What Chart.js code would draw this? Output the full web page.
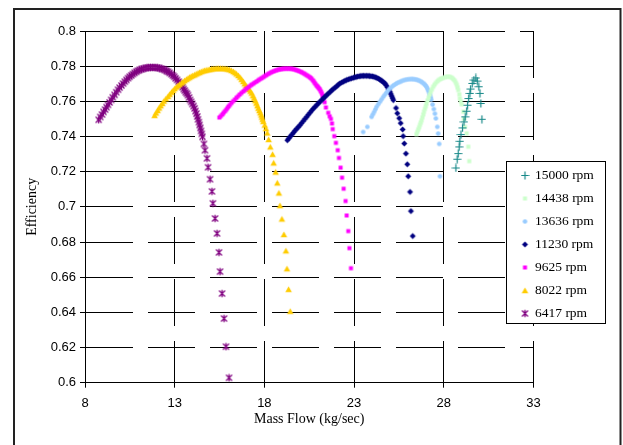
<!DOCTYPE html>
<html>
<head>
<meta charset="utf-8">
<script src="https://cdn.jsdelivr.net/npm/chart.js@4/dist/chart.umd.min.js"></script>
<style>
  html, body { margin: 0; padding: 0; background: #fff; }
  #wrap { width: 623px; height: 445px; }
</style>
</head>
<body>
<div id="wrap"><canvas id="c" width="623" height="445"></canvas></div>
<script>
// ---- data ----
const seriesNames = ['15000 rpm', '14438 rpm', '13636 rpm', '11230 rpm', '9625 rpm', '8022 rpm', '6417 rpm'];
const xTickLabels = ['8', '13', '18', '23', '28', '33'];
const yTickLabels = ['0.6', '0.62', '0.64', '0.66', '0.68', '0.7', '0.72', '0.74', '0.76', '0.78', '0.8'];

const rpm15000 = [[28.68,0.7221],[28.75,0.7271],[28.81,0.7303],[28.86,0.7341],[28.90,0.7373],[28.96,0.7411],[29.05,0.7449],[29.13,0.7483],[29.20,0.7512],[29.28,0.7544],[29.33,0.7578],[29.39,0.7616],[29.46,0.7645],[29.50,0.7670],[29.59,0.7702],[29.68,0.7721],[29.79,0.7733],[29.87,0.7715],[29.96,0.7683],[30.02,0.7645],[30.07,0.7588],[30.13,0.7498]];
const rpm14438 = [[26.48,0.7413],[26.53,0.7427],[26.58,0.7440],[26.63,0.7453],[26.68,0.7467],[26.72,0.7480],[26.77,0.7493],[26.81,0.7509],[26.86,0.7525],[26.90,0.7541],[26.95,0.7557],[27.00,0.7572],[27.04,0.7588],[27.10,0.7605],[27.16,0.7621],[27.22,0.7638],[27.28,0.7654],[27.34,0.7669],[27.41,0.7683],[27.48,0.7694],[27.56,0.7705],[27.64,0.7714],[27.72,0.7721],[27.80,0.7726],[27.88,0.7730],[27.98,0.7734],[28.09,0.7738],[28.20,0.7740],[28.31,0.7740],[28.40,0.7737],[28.48,0.7732],[28.55,0.7725],[28.62,0.7717],[28.68,0.7705],[28.73,0.7693],[28.77,0.7679],[28.81,0.7664],[28.87,0.7640],[28.90,0.7617],[28.95,0.7600],[29.00,0.7583],[29.09,0.7541],[29.13,0.7500],[29.18,0.7455],[29.28,0.7418],[29.37,0.7342],[29.42,0.7260]];
const rpm13636 = [[23.51,0.7426],[23.74,0.7455],[23.98,0.7512],[24.05,0.7526],[24.12,0.7540],[24.19,0.7555],[24.26,0.7569],[24.35,0.7584],[24.45,0.7598],[24.54,0.7612],[24.63,0.7626],[24.72,0.7638],[24.81,0.7650],[24.90,0.7662],[25.00,0.7674],[25.10,0.7682],[25.19,0.7690],[25.28,0.7696],[25.37,0.7702],[25.46,0.7707],[25.56,0.7711],[25.66,0.7716],[25.77,0.7720],[25.88,0.7723],[25.99,0.7725],[26.10,0.7726],[26.21,0.7727],[26.30,0.7726],[26.40,0.7725],[26.49,0.7723],[26.58,0.7720],[26.67,0.7716],[26.76,0.7711],[26.84,0.7705],[26.92,0.7698],[26.98,0.7691],[27.04,0.7683],[27.09,0.7672],[27.14,0.7660],[27.19,0.7648],[27.23,0.7636],[27.27,0.7623],[27.30,0.7610],[27.38,0.7582],[27.45,0.7556],[27.51,0.7530],[27.56,0.7503],[27.64,0.7455],[27.69,0.7417],[27.75,0.7358],[27.79,0.7174]];
const rpm11230 = [[19.28,0.7379],[19.37,0.7390],[19.45,0.7401],[19.54,0.7412],[19.63,0.7423],[19.71,0.7434],[19.80,0.7444],[19.89,0.7454],[19.98,0.7464],[20.07,0.7476],[20.17,0.7488],[20.26,0.7500],[20.36,0.7512],[20.45,0.7524],[20.55,0.7536],[20.64,0.7548],[20.73,0.7559],[20.83,0.7569],[20.92,0.7579],[21.01,0.7589],[21.10,0.7598],[21.20,0.7608],[21.29,0.7617],[21.38,0.7626],[21.47,0.7635],[21.56,0.7644],[21.66,0.7653],[21.75,0.7662],[21.84,0.7670],[21.94,0.7678],[22.03,0.7686],[22.12,0.7694],[22.21,0.7702],[22.31,0.7707],[22.40,0.7712],[22.49,0.7717],[22.58,0.7721],[22.68,0.7725],[22.77,0.7728],[22.86,0.7731],[22.96,0.7734],[23.04,0.7737],[23.12,0.7739],[23.20,0.7741],[23.29,0.7743],[23.37,0.7744],[23.45,0.7745],[23.53,0.7745],[23.61,0.7745],[23.70,0.7745],[23.78,0.7745],[23.86,0.7744],[23.94,0.7743],[24.02,0.7742],[24.10,0.7740],[24.18,0.7737],[24.26,0.7734],[24.34,0.7730],[24.42,0.7725],[24.50,0.7720],[24.57,0.7714],[24.65,0.7708],[24.72,0.7702],[24.79,0.7691],[24.86,0.7680],[24.93,0.7667],[25.00,0.7654],[25.05,0.7642],[25.10,0.7630],[25.15,0.7618],[25.19,0.7607],[25.34,0.7562],[25.41,0.7532],[25.52,0.7504],[25.60,0.7476],[25.71,0.7440],[25.74,0.7402],[25.80,0.7360],[25.89,0.7303],[25.97,0.7242],[26.02,0.7174],[26.12,0.7085],[26.17,0.6976],[26.27,0.6834]];
const rpm9625 = [[15.49,0.7508],[15.57,0.7516],[15.65,0.7525],[15.72,0.7534],[15.80,0.7543],[15.87,0.7552],[15.94,0.7562],[16.01,0.7571],[16.08,0.7580],[16.17,0.7591],[16.26,0.7601],[16.36,0.7611],[16.45,0.7621],[16.54,0.7630],[16.63,0.7639],[16.72,0.7648],[16.82,0.7656],[16.91,0.7664],[17.00,0.7672],[17.10,0.7680],[17.19,0.7687],[17.28,0.7694],[17.38,0.7700],[17.47,0.7707],[17.57,0.7713],[17.66,0.7720],[17.75,0.7726],[17.85,0.7732],[17.94,0.7738],[18.03,0.7744],[18.12,0.7750],[18.22,0.7756],[18.31,0.7761],[18.40,0.7766],[18.50,0.7770],[18.59,0.7774],[18.68,0.7777],[18.78,0.7780],[18.87,0.7782],[18.96,0.7784],[19.05,0.7785],[19.15,0.7786],[19.24,0.7786],[19.34,0.7786],[19.43,0.7786],[19.52,0.7785],[19.61,0.7783],[19.71,0.7780],[19.80,0.7777],[19.89,0.7774],[19.98,0.7770],[20.07,0.7766],[20.16,0.7761],[20.25,0.7756],[20.33,0.7750],[20.42,0.7745],[20.50,0.7739],[20.57,0.7734],[20.64,0.7728],[20.71,0.7719],[20.77,0.7710],[20.83,0.7701],[20.89,0.7692],[20.95,0.7686],[21.00,0.7680],[21.05,0.7673],[21.10,0.7666],[21.15,0.7656],[21.20,0.7646],[21.24,0.7633],[21.28,0.7620],[21.36,0.7595],[21.43,0.7565],[21.56,0.7535],[21.64,0.7515],[21.71,0.7500],[21.77,0.7474],[21.81,0.7442],[21.90,0.7402],[21.99,0.7364],[22.09,0.7322],[22.16,0.7278],[22.25,0.7223],[22.33,0.7166],[22.42,0.7103],[22.53,0.7033],[22.59,0.6951],[22.68,0.6862],[22.74,0.6765],[22.83,0.6651]];
const rpm8022 = [[11.88,0.7520],[11.96,0.7534],[12.05,0.7548],[12.13,0.7562],[12.22,0.7575],[12.31,0.7588],[12.40,0.7601],[12.51,0.7615],[12.63,0.7628],[12.72,0.7640],[12.82,0.7652],[12.91,0.7662],[13.00,0.7672],[13.09,0.7681],[13.18,0.7690],[13.27,0.7697],[13.37,0.7704],[13.46,0.7711],[13.55,0.7718],[13.65,0.7725],[13.74,0.7731],[13.83,0.7737],[13.92,0.7742],[14.01,0.7747],[14.11,0.7751],[14.20,0.7756],[14.30,0.7761],[14.39,0.7765],[14.48,0.7769],[14.58,0.7773],[14.67,0.7776],[14.76,0.7778],[14.86,0.7780],[14.95,0.7782],[15.05,0.7784],[15.15,0.7786],[15.25,0.7787],[15.35,0.7788],[15.45,0.7788],[15.55,0.7788],[15.65,0.7788],[15.75,0.7787],[15.85,0.7786],[15.95,0.7784],[16.05,0.7781],[16.16,0.7776],[16.27,0.7770],[16.36,0.7763],[16.45,0.7756],[16.55,0.7747],[16.64,0.7737],[16.73,0.7725],[16.82,0.7713],[16.90,0.7700],[16.98,0.7688],[17.06,0.7678],[17.14,0.7668],[17.22,0.7658],[17.29,0.7647],[17.36,0.7632],[17.42,0.7618],[17.49,0.7604],[17.55,0.7590],[17.61,0.7575],[17.66,0.7561],[17.72,0.7548],[17.77,0.7535],[17.82,0.7522],[17.86,0.7510],[17.90,0.7498],[17.94,0.7486],[18.02,0.7465],[18.09,0.7445],[18.16,0.7420],[18.24,0.7383],[18.33,0.7341],[18.46,0.7299],[18.52,0.7250],[18.63,0.7198],[18.72,0.7136],[18.81,0.7079],[18.87,0.7007],[18.98,0.6931],[19.09,0.6843],[19.20,0.6750],[19.26,0.6648],[19.35,0.6531],[19.44,0.6406]];
const rpm6417 = [[8.76,0.7495],[8.85,0.7511],[8.95,0.7525],[9.03,0.7540],[9.12,0.7553],[9.20,0.7567],[9.28,0.7580],[9.37,0.7594],[9.46,0.7608],[9.55,0.7623],[9.65,0.7637],[9.74,0.7652],[9.84,0.7666],[9.93,0.7678],[10.03,0.7690],[10.12,0.7701],[10.22,0.7712],[10.31,0.7722],[10.40,0.7732],[10.49,0.7740],[10.58,0.7748],[10.67,0.7755],[10.77,0.7762],[10.86,0.7768],[10.95,0.7774],[11.05,0.7779],[11.15,0.7783],[11.25,0.7786],[11.35,0.7789],[11.45,0.7791],[11.55,0.7792],[11.65,0.7793],[11.75,0.7793],[11.85,0.7793],[11.95,0.7792],[12.05,0.7791],[12.15,0.7789],[12.25,0.7786],[12.35,0.7783],[12.45,0.7778],[12.55,0.7773],[12.63,0.7768],[12.72,0.7762],[12.81,0.7755],[12.90,0.7748],[12.97,0.7740],[13.05,0.7731],[13.13,0.7722],[13.22,0.7712],[13.30,0.7702],[13.37,0.7692],[13.44,0.7681],[13.50,0.7670],[13.56,0.7661],[13.62,0.7652],[13.68,0.7644],[13.74,0.7635],[13.80,0.7622],[13.86,0.7608],[13.92,0.7597],[13.98,0.7585],[14.05,0.7573],[14.11,0.7560],[14.16,0.7545],[14.21,0.7530],[14.26,0.7514],[14.30,0.7498],[14.35,0.7482],[14.39,0.7466],[14.43,0.7449],[14.47,0.7432],[14.51,0.7415],[14.55,0.7398],[14.63,0.7358],[14.69,0.7322],[14.80,0.7276],[14.86,0.7225],[14.97,0.7157],[15.08,0.7088],[15.13,0.7020],[15.25,0.6934],[15.36,0.6849],[15.47,0.6741],[15.53,0.6632],[15.64,0.6507],[15.75,0.6365],[15.86,0.6205],[16.03,0.6028]];

const seriesData = [rpm15000, rpm14438, rpm13636, rpm11230, rpm9625, rpm8022, rpm6417];

// ---- marker images (style only) ----
function makeMarker(kind, color) {
  const c = document.createElement('canvas');
  c.width = 9; c.height = 9;
  const g = c.getContext('2d');
  g.fillStyle = color; g.strokeStyle = color; g.lineWidth = 1.2;
  g.beginPath();
  if (kind === 'plus') {
    g.moveTo(4.5, 0.5); g.lineTo(4.5, 8.5); g.moveTo(0.5, 4.5); g.lineTo(8.5, 4.5); g.stroke();
  } else if (kind === 'square') {
    g.fillRect(2.5, 2.5, 4, 4);
  } else if (kind === 'circle') {
    g.arc(4.5, 4.5, 2.3, 0, Math.PI * 2); g.fill();
  } else if (kind === 'diamond') {
    g.moveTo(4.5, 1.5); g.lineTo(7.5, 4.5); g.lineTo(4.5, 7.5); g.lineTo(1.5, 4.5); g.closePath(); g.fill();
  } else if (kind === 'triangle') {
    g.moveTo(4.5, 1.5); g.lineTo(7.8, 7.2); g.lineTo(1.2, 7.2); g.closePath(); g.fill();
  } else if (kind === 'star') {
    g.moveTo(1.5, 1.5); g.lineTo(7.5, 7.5); g.moveTo(7.5, 1.5); g.lineTo(1.5, 7.5);
    g.moveTo(4.5, 0.8); g.lineTo(4.5, 8.2); g.stroke();
  }
  return c;
}
const markerStyles = [
  makeMarker('plus', '#168888'),
  makeMarker('square', '#ccffcc'),
  makeMarker('circle', '#99ccff'),
  makeMarker('diamond', '#000080'),
  makeMarker('square', '#ff00ff'),
  makeMarker('triangle', '#ffcc00'),
  makeMarker('star', '#800080')
];

const datasets = seriesNames.map((name, i) => ({
  label: name,
  data: seriesData[i].map(p => ({ x: p[0], y: p[1] })),
  pointStyle: markerStyles[i],
  pointRadius: 4,
  showLine: false
}));

// outer frame + legend
const framePlugin = {
  id: 'frame',
  beforeDraw(chart) {
    const ctx = chart.ctx;
    ctx.save();
    ctx.fillStyle = '#fff';
    ctx.fillRect(0, 0, chart.width, chart.height);
    ctx.strokeStyle = '#222';
    ctx.lineWidth = 2;
    ctx.strokeRect(14, 9, 606.5, 460);
    ctx.restore();
  },
  afterDraw(chart) {
    const ctx = chart.ctx;
    ctx.save();
    const bx = 506, by = 161, bw = 99, bh = 162;
    ctx.fillStyle = '#fff';
    ctx.fillRect(bx, by, bw, bh);
    ctx.strokeStyle = '#000';
    ctx.lineWidth = 1;
    ctx.strokeRect(bx + 0.5, by + 0.5, bw, bh);
    ctx.font = '13.5px "Liberation Serif"';
    ctx.fillStyle = '#000';
    ctx.textBaseline = 'middle';
    chart.data.datasets.forEach((ds, i) => {
      const cy = 175.5 + i * 23.05;
      const img = ds.pointStyle;
      ctx.drawImage(img, 525 - 4.5, Math.round(cy) - 5);
      ctx.fillText(ds.label, 535, cy);
    });
    ctx.restore();
  }
};

new Chart(document.getElementById('c'), {
  type: 'scatter',
  data: { datasets },
  plugins: [framePlugin],
  options: {
    responsive: false,
    animation: false,
    devicePixelRatio: 1,
    layout: { padding: { left: 0, top: 31, right: 89.6, bottom: 0 } },
    plugins: { legend: { display: false }, tooltip: { enabled: false } },
    scales: {
      x: {
        type: 'linear', min: 8, max: 33,
        afterFit(s) { s.height = 62.3; },
        afterBuildTicks(s) { s.ticks = xTickLabels.map(t => ({ value: Number(t) })); },
        ticks: {
          callback: (v, i) => xTickLabels[i],
          font: { family: 'Liberation Sans', size: 13 }, color: '#000', padding: 8, maxRotation: 0
        },
        grid: { color: '#000', lineWidth: 1, tickLength: 5, tickColor: '#000' },
        border: { color: '#000', width: 1, dash: [47, 15] },
        title: { display: true, text: 'Mass Flow (kg/sec)', color: '#000',
          font: { family: 'Liberation Serif', size: 14 }, padding: { top: 0, bottom: 17 } }
      },
      y: {
        type: 'linear', min: 0.6, max: 0.8,
        afterFit(s) { s.width = 85; },
        afterBuildTicks(s) { s.ticks = yTickLabels.map(t => ({ value: Number(t) })); },
        ticks: {
          callback: (v, i) => yTickLabels[i],
          font: { family: 'Liberation Sans', size: 13 }, color: '#000', padding: 4
        },
        grid: { color: '#000', lineWidth: 1, tickLength: 5, tickColor: '#000' },
        border: { color: '#000', width: 1, dash: [47, 15] },
        title: { display: true, text: 'Efficiency', color: '#000',
          font: { family: 'Liberation Serif', size: 14 }, padding: { top: 24, bottom: 0 } }
      }
    }
  }
});
</script>
</body>
</html>
